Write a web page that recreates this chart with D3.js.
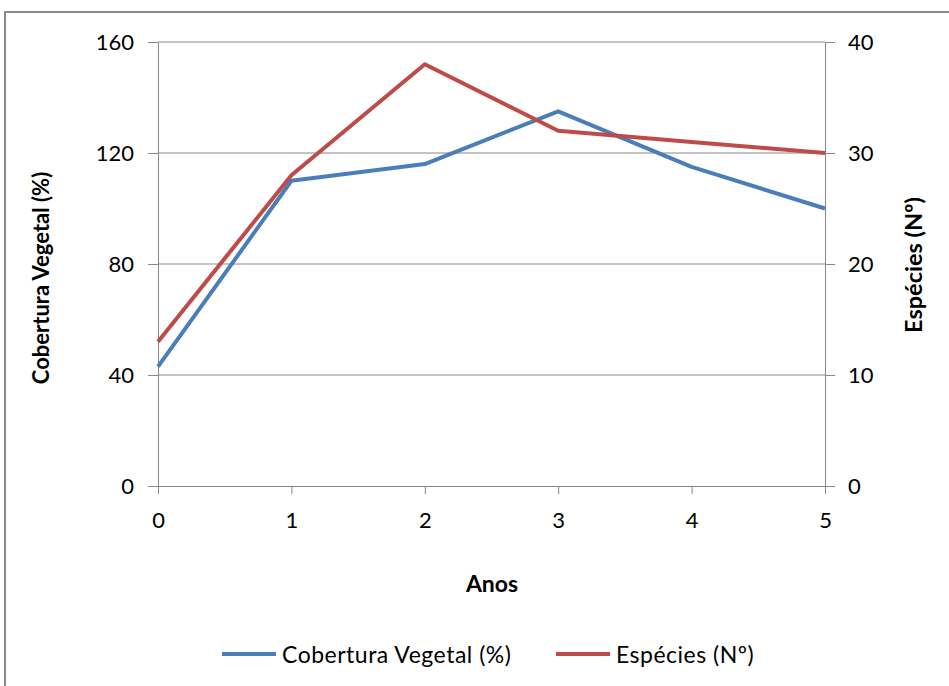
<!DOCTYPE html>
<html>
<head>
<meta charset="utf-8">
<script src="https://cdn.jsdelivr.net/npm/d3@7/dist/d3.min.js"></script>
<style>
  html, body { margin: 0; padding: 0; background: #fff; }
  svg { display: block; font-family: Lato, "Open Sans", sans-serif; }
  .grid line { stroke: #888; stroke-width: 1; }
  .axis path, .axis line { stroke: #888; stroke-width: 1; }
  .axis text { fill: #000; font-size: 22px; font-family: Lato, "Open Sans", sans-serif; }
</style>
</head>
<body>
<svg id="chart" width="949" height="686"></svg>
<script>
// dados
const anos = [0, 1, 2, 3, 4, 5];
const cobertura = [43, 110, 116, 135, 115, 100];   // Cobertura Vegetal (%)
const especies = [13, 28, 38, 32, 31, 30];         // Espécies (Nº)
const leftTicks = [0, 40, 80, 120, 160];
const rightTicks = [0, 10, 20, 30, 40];

const BLUE = "#4a7ebb", RED = "#be4b48";

const svg = d3.select("#chart");
const m = { left: 158, right: 825, top: 42, bottom: 486 };

// moldura do gráfico (sai pela direita/baixo, como no original)
svg.append("rect").attr("x", 5).attr("y", 12).attr("width", 980).attr("height", 700)
  .attr("fill", "#fff").attr("stroke", "#8a8a8a").attr("stroke-width", 2);

const x = d3.scaleLinear().domain([0, 5]).range([m.left, m.right]);
const yL = d3.scaleLinear().domain([0, 160]).range([m.bottom, m.top]);
const yR = d3.scaleLinear().domain([0, 40]).range([m.bottom, m.top]);

// grade horizontal
svg.append("g").attr("class", "grid").selectAll("line")
  .data(leftTicks.filter((d) => d > 0)).enter().append("line")
  .attr("x1", m.left).attr("x2", m.right)
  .attr("y1", (d) => yL(d)).attr("y2", (d) => yL(d));

// eixos
const gL = svg.append("g").attr("class", "axis").attr("transform", `translate(${m.left},0)`)
  .call(d3.axisLeft(yL).tickValues(leftTicks).tickSize(10).tickPadding(14).tickSizeOuter(0));
const gR = svg.append("g").attr("class", "axis").attr("transform", `translate(${m.right},0)`)
  .call(d3.axisRight(yR).tickValues(rightTicks).tickSize(10).tickPadding(13).tickSizeOuter(0));
const gX = svg.append("g").attr("class", "axis").attr("transform", `translate(0,${m.bottom})`)
  .call(d3.axisBottom(x).tickValues(anos).tickFormat(d3.format("d")).tickSize(8).tickPadding(26).tickSizeOuter(0));
gX.selectAll("text").attr("dy", "0.35em");
[gL, gR, gX].forEach((g) => g.attr("font-family", null).attr("font-size", null).select(".domain").attr("stroke", "#888"));

// linhas
const lineL = d3.line().x((d, i) => x(anos[i])).y((d) => yL(d));
const lineR = d3.line().x((d, i) => x(anos[i])).y((d) => yR(d));
svg.append("path").datum(cobertura).attr("d", lineL)
  .attr("fill", "none").attr("stroke", BLUE).attr("stroke-width", 4).attr("stroke-linejoin", "round");
svg.append("path").datum(especies).attr("d", lineR)
  .attr("fill", "none").attr("stroke", RED).attr("stroke-width", 4).attr("stroke-linejoin", "round");

// títulos dos eixos
svg.append("text").attr("transform", "translate(40,278) rotate(-90)")
  .attr("text-anchor", "middle").attr("dominant-baseline", "central")
  .attr("font-size", 22).attr("font-weight", "bold").text("Cobertura Vegetal (%)");
svg.append("text").attr("transform", "translate(913,265) rotate(-90)")
  .attr("text-anchor", "middle").attr("dominant-baseline", "central")
  .attr("font-size", 23.5).attr("font-weight", "bold").text("Espécies (Nº)");
svg.append("text").attr("x", 492).attr("y", 583)
  .attr("text-anchor", "middle").attr("dominant-baseline", "central")
  .attr("font-size", 23).attr("font-weight", "bold").text("Anos");

// legenda
const legend = [
  { name: "Cobertura Vegetal (%)", color: BLUE, x: 222 },
  { name: "Espécies (Nº)", color: RED, x: 556 },
];
const lg = svg.append("g").selectAll("g").data(legend).enter().append("g")
  .attr("transform", (d) => `translate(${d.x},654)`);
lg.append("line").attr("x1", 0).attr("x2", 54).attr("stroke", (d) => d.color).attr("stroke-width", 4);
lg.append("text").attr("x", 60).attr("dominant-baseline", "central")
  .attr("font-size", 23).attr("letter-spacing", 0.5).text((d) => d.name);
</script>
</body>
</html>
